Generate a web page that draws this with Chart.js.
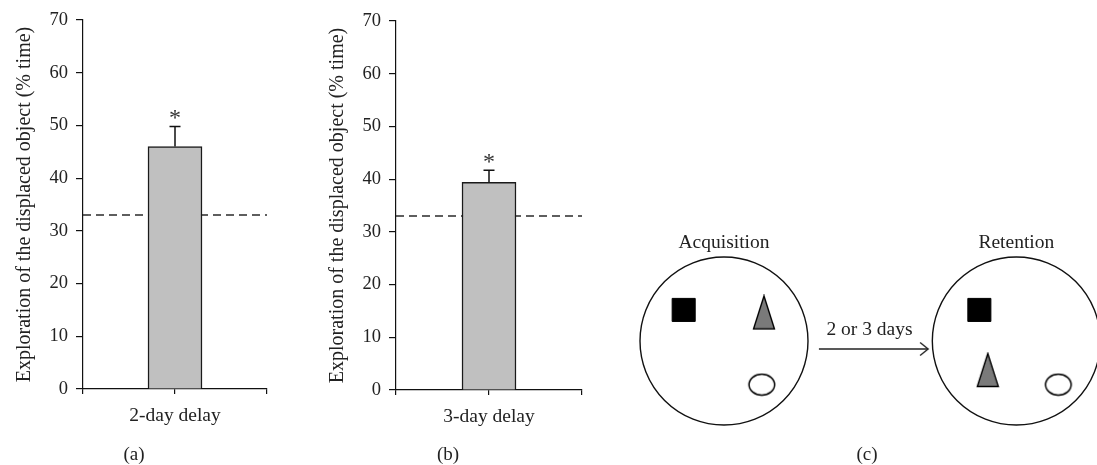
<!DOCTYPE html>
<html>
<head>
<meta charset="utf-8">
<script src="https://cdn.jsdelivr.net/npm/chart.js@4.4.1/dist/chart.umd.min.js"></script>
<style>
  html, body { margin: 0; padding: 0; background: #fff; }
  body { width: 1097px; height: 465px; position: relative; overflow: hidden; }
  canvas { position: absolute; top: 0; }
</style>
</head>
<body>
<canvas id="chartA" width="290" height="465" style="left:0px"></canvas>
<canvas id="chartB" width="290" height="465" style="left:313px"></canvas>
<canvas id="chartC" width="497" height="465" style="left:600px"></canvas>
<script>
// ---------------- DATA ----------------
const yAxisTitle = 'Exploration of the displaced object (% time)';
const yTickMin = 0;
const yTickMax = 70;
const yTickStep = 10;
const chanceLevel = 33;

const categoriesA = ['2-day delay'];
const meansA = [46.0];
const semA = [3.8];
const significantA = [true];

const categoriesB = ['3-day delay'];
const meansB = [39.4];
const semB = [2.3];
const significantB = [true];

const panelLabels = ['(a)', '(b)', '(c)'];

// schematic (c): positions in units of the arena radius, relative to arena centres
const arenaTitles = ['Acquisition', 'Retention'];
const arenaCentreX = [0, 3.48];
const squareDX = [-0.48, -0.44];
const squareDY = [0.37, 0.37];
const triangleDX = [0.476, -0.34];
const triangleDY = [0.34, -0.345];
const ellipseDX = [0.45, 0.5];
const ellipseDY = [-0.52, -0.52];
const arrowX = [1.13, 2.43];
const arrowY = [-0.095, -0.095];
const arrowLabel = '2 or 3 days';

// ---------------- STYLE ----------------
const FONT = "'Liberation Serif', 'Times New Roman', serif";
const TEXT = '#222';
const INK = '#111';

const barExtras = {
  id: 'barExtras',
  beforeDatasetsDraw(chart, args, o) {
    const { ctx, chartArea, scales: { y } } = chart;
    const py = y.getPixelForValue(chanceLevel);
    ctx.save();
    ctx.setLineDash([8, 5]);
    ctx.strokeStyle = '#2a2a2a';
    ctx.lineWidth = 1.4;
    ctx.beginPath();
    ctx.moveTo(chartArea.left, py);
    ctx.lineTo(chartArea.right, py);
    ctx.stroke();
    ctx.restore();
  },
  afterDatasetsDraw(chart, args, o) {
    const { ctx, scales: { y } } = chart;
    const meta = chart.getDatasetMeta(0);
    ctx.save();
    meta.data.forEach((bar, i) => {
      const v = o.means[i], e = o.errors[i];
      const px = bar.x;
      const pTop = y.getPixelForValue(v);
      const pErr = y.getPixelForValue(v + e);
      ctx.strokeStyle = INK;
      ctx.lineWidth = 1.5;
      ctx.beginPath();
      ctx.moveTo(px, pTop);
      ctx.lineTo(px, pErr);
      ctx.moveTo(px - 5.5, pErr);
      ctx.lineTo(px + 5.5, pErr);
      ctx.stroke();
      if (o.sig[i]) {
        ctx.fillStyle = '#333';
        ctx.font = '24px ' + FONT;
        ctx.textAlign = 'center';
        ctx.textBaseline = 'alphabetic';
        ctx.fillText('*', px, pErr - 1);
      }
    });
    ctx.restore();
  },
  afterDraw(chart, args, o) {
    const { ctx, chartArea } = chart;
    ctx.save();
    ctx.fillStyle = TEXT;
    ctx.font = '19px ' + FONT;
    ctx.textAlign = 'center';
    ctx.textBaseline = 'middle';
    ctx.fillText(o.panel, (chartArea.left + chartArea.right) / 2 + o.panelOffset, 455);
    ctx.restore();
  }
};

function makeBarChart(id, cats, means, errs, sig, panel, topPad, rightPad, xHeight) {
  return new Chart(document.getElementById(id), {
    type: 'bar',
    data: {
      datasets: [{
        data: means.map((v, i) => ({ x: i + 1, y: v })),
        backgroundColor: '#c0c0c0',
        borderColor: '#1a1a1a',
        borderWidth: 1.5,
        borderSkipped: 'bottom',
        barThickness: 54
      }]
    },
    options: {
      responsive: false,
      animation: false,
      devicePixelRatio: 1,
      layout: { padding: { top: topPad, right: rightPad, bottom: 0, left: 0 } },
      plugins: {
        legend: { display: false },
        tooltip: { enabled: false },
        barExtras: { means: means, errors: errs, sig: sig, panel: panel, panelOffset: -41 }
      },
      scales: {
        x: {
          type: 'linear',
          offset: false,
          min: 0,
          max: cats.length + 1,
          ticks: {
            stepSize: 1, autoSkip: false, maxRotation: 0, padding: 10,
            color: TEXT, font: { family: FONT, size: 19.5 },
            callback: (v) => (Number.isInteger(v) && v >= 1 && v <= cats.length) ? cats[v - 1] : ''
          },
          grid: { offset: false, drawOnChartArea: false, drawTicks: true, tickLength: 5, color: INK, lineWidth: 1.2 },
          border: { display: true, color: INK, width: 1.2 },
          afterFit(s) { s.height = xHeight; }
        },
        y: {
          min: yTickMin,
          max: yTickMax,
          ticks: { stepSize: yTickStep, padding: 8, color: TEXT, font: { family: FONT, size: 18.5 } },
          grid: { drawOnChartArea: false, drawTicks: true, tickLength: 7, color: INK, lineWidth: 1.2 },
          border: { display: true, color: INK, width: 1.2 },
          title: {
            display: true, text: yAxisTitle, color: TEXT,
            font: { family: FONT, size: 20 },
            padding: { top: 13, bottom: 0 }
          },
          afterFit(s) { s.width = 83; }
        }
      }
    },
    plugins: [barExtras]
  });
}

makeBarChart('chartA', categoriesA, meansA, semA, significantA, panelLabels[0], 20, 23, 76);
makeBarChart('chartB', categoriesB, meansB, semB, significantB, panelLabels[1], 21, 21, 75);

// ---------------- PANEL (c) ----------------
function shapeCanvas(w, h, draw) {
  const c = document.createElement('canvas');
  c.width = w; c.height = h;
  draw(c.getContext('2d'), w, h);
  return c;
}
const triangleImg = shapeCanvas(24, 36, (g, w, h) => {
  g.beginPath();
  g.moveTo(w / 2, 1.5);
  g.lineTo(w - 1.5, h - 1.5);
  g.lineTo(1.5, h - 1.5);
  g.closePath();
  g.fillStyle = '#7a7a7a';
  g.fill();
  g.strokeStyle = '#000';
  g.lineWidth = 1.4;
  g.stroke();
});
const ellipseImg = shapeCanvas(30, 24, (g, w, h) => {
  g.beginPath();
  g.ellipse(w / 2, h / 2, 12.8, 10.5, 0, 0, Math.PI * 2);
  g.fillStyle = '#fff';
  g.fill();
  g.strokeStyle = '#000';
  g.lineWidth = 1.5;
  g.stroke();
});
const arrowHeadImg = shapeCanvas(20, 16, (g, w, h) => {
  g.beginPath();
  g.moveTo(w / 2 - 8, h / 2 - 6.5);
  g.lineTo(w / 2, h / 2);
  g.lineTo(w / 2 - 8, h / 2 + 6.5);
  g.strokeStyle = '#222';
  g.lineWidth = 1.4;
  g.stroke();
});

const diagramText = {
  id: 'diagramText',
  afterDatasetsDraw(chart) {
    const { ctx, scales: { x, y } } = chart;
    ctx.save();
    ctx.fillStyle = TEXT;
    ctx.font = '19.5px ' + FONT;
    ctx.textAlign = 'center';
    ctx.textBaseline = 'alphabetic';
    arenaTitles.forEach((t, i) => {
      ctx.fillText(t, x.getPixelForValue(arenaCentreX[i]), y.getPixelForValue(1) - 9);
    });
    const ax = (x.getPixelForValue(arrowX[0]) + x.getPixelForValue(arrowX[1])) / 2 - 4;
    ctx.fillText(arrowLabel, ax, y.getPixelForValue(arrowY[0]) - 14);
    ctx.font = '19px ' + FONT;
    ctx.textBaseline = 'middle';
    ctx.fillText(panelLabels[2], 267, 455);
    ctx.restore();
  }
};

new Chart(document.getElementById('chartC'), {
  type: 'scatter',
  data: {
    datasets: [
      {
        label: 'arena',
        order: 10,
        clip: false,
        data: arenaCentreX.map(cx => ({ x: cx, y: 0 })),
        pointStyle: 'circle', pointRadius: 84,
        backgroundColor: '#fff', borderColor: INK, borderWidth: 1.4
      },
      {
        label: 'square',
        order: 1,
        clip: false,
        data: arenaCentreX.map((cx, i) => ({ x: cx + squareDX[i], y: squareDY[i] })),
        pointStyle: 'rect', pointRadius: 16.3,
        backgroundColor: '#000', borderColor: '#000', borderWidth: 1
      },
      {
        label: 'triangle',
        order: 1,
        clip: false,
        data: arenaCentreX.map((cx, i) => ({ x: cx + triangleDX[i], y: triangleDY[i] })),
        pointStyle: triangleImg, pointRadius: 18
      },
      {
        label: 'ellipse',
        order: 1,
        clip: false,
        data: arenaCentreX.map((cx, i) => ({ x: cx + ellipseDX[i], y: ellipseDY[i] })),
        pointStyle: ellipseImg, pointRadius: 15
      },
      {
        type: 'line',
        label: 'arrow',
        order: 1,
        clip: false,
        data: arrowX.map((ax, i) => ({ x: ax, y: arrowY[i] })),
        showLine: true, pointRadius: 0, borderColor: '#222', borderWidth: 1.3, fill: false
      },
      {
        label: 'arrowhead',
        order: 0,
        clip: false,
        data: [{ x: arrowX[1], y: arrowY[1] }],
        pointStyle: arrowHeadImg, pointRadius: 10
      }
    ]
  },
  options: {
    responsive: false,
    animation: false,
    devicePixelRatio: 1,
    layout: { padding: 0, autoPadding: false },
    plugins: { legend: { display: false }, tooltip: { enabled: false } },
    scales: {
      x: { type: 'linear', display: false, min: -124 / 84, max: 373 / 84 },
      y: { type: 'linear', display: false, min: -124 / 84, max: 341 / 84 }
    }
  },
  plugins: [diagramText]
});
</script>
</body>
</html>
